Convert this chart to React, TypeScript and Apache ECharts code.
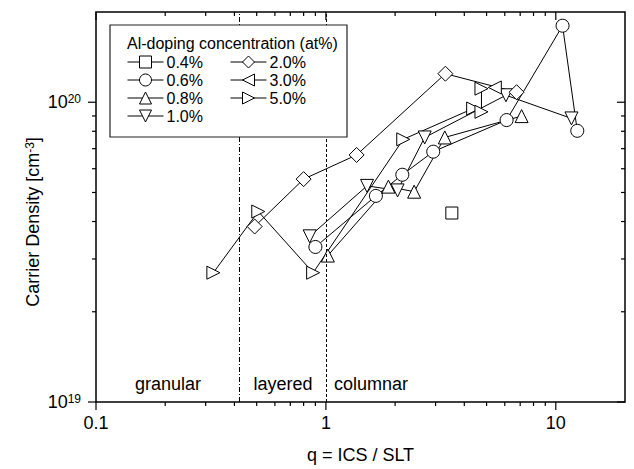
import React, { useEffect, useRef } from 'react';
import * as echarts from 'echarts';

// Axis ranges
const xMin = 0.1;
const xMax = 20;
const yMin = 1e19;
const yMax = 2e20;

// Tick positions (values)
const xMajorTicks = [0.1, 1, 10];
const xMinorTicks = [0.2, 0.3, 0.4, 0.5, 0.6, 0.7, 0.8, 0.9, 2, 3, 4, 5, 6, 7, 8, 9];
const yMajorTicks = [1e19, 1e20];
const yMinorTicks = [2e19, 3e19, 4e19, 5e19, 6e19, 7e19, 8e19, 9e19];

// Region boundaries (q values) and region labels
const boundaries = [0.42, 1.0];
const regionLabels = ['granular', 'layered', 'columnar'];

// Series names (Al-doping concentration)
const seriesNames = ['0.4%', '0.6%', '0.8%', '1.0%', '2.0%', '3.0%', '5.0%'];

// Data: q = ICS / SLT and carrier density [cm^-3]
const q04 = [3.53];
const n04 = [4.27e19];

const q06 = [0.9, 1.65, 2.15, 2.93, 6.11, 10.7, 12.4];
const n06 = [3.29e19, 4.87e19, 5.73e19, 6.84e19, 8.72e19, 1.8e20, 8.03e19];

const q08 = [1.02, 1.87, 2.42, 3.29, 7.1];
const n08 = [3.08e19, 5.23e19, 5.03e19, 7.63e19, 8.99e19];

const q10 = [0.85, 1.51, 2.05, 2.69, 6.07, 11.7];
const n10 = [3.57e19, 5.26e19, 5.08e19, 7.63e19, 1.055e20, 8.83e19];

const q20 = [0.49, 0.8, 1.36, 3.31, 6.75];
const n20 = [3.85e19, 5.54e19, 6.67e19, 1.245e20, 1.08e20];

const q30 = [5.43];
const n30 = [1.12e20];

const q50 = [0.324, 0.508, 0.88, 2.17, 4.37, 4.75, 4.75];
const n50 = [2.7e19, 4.32e19, 2.7e19, 7.52e19, 9.53e19, 9.29e19, 1.11e20];

const FONT = 'Liberation Sans, Arial, sans-serif';

const pairs = (q: number[], n: number[]) => q.map((v, i) => [v, n[i]]);

const triDown = 'path://M0,0L10,0L5,9Z';
const triLeft = 'path://M9,0L0,5L9,10Z';
const triRight = 'path://M0,0L9,5L0,10Z';

function makeSeries(name: string, q: number[], n: number[], symbol: string, size: number, extra: any = {}) {
  return {
    type: 'line',
    name,
    data: pairs(q, n),
    symbol,
    symbolSize: size,
    showAllSymbol: true,
    itemStyle: { color: '#fff', borderColor: '#000', borderWidth: 1 },
    lineStyle: { color: '#000', width: 1 },
    emphasis: { disabled: true },
    z: 3,
    ...extra,
  };
}

const legendBase = {
  orient: 'vertical',
  top: 54,
  itemWidth: 36,
  itemHeight: 15,
  itemGap: 2,
  padding: 0,
  selectedMode: false,
  z: 110,
  itemStyle: { color: '#fff', borderColor: '#000', borderWidth: 1 },
  lineStyle: { color: '#000', width: 1 },
  textStyle: { color: '#000', fontSize: 16, fontFamily: FONT, padding: [0, 0, 0, -2] },
};

export default function App() {
  const ref = useRef<HTMLDivElement>(null);

  useEffect(() => {
    if (!ref.current) return;
    const chart = echarts.init(ref.current, undefined, { renderer: 'svg' });

    const tickStyle = { stroke: '#000', lineWidth: 1.2 };

    const xTickData = [
      ...xMajorTicks.map((v) => [v, yMin, 1]),
      ...xMinorTicks.map((v) => [v, yMin, 0]),
    ];
    const yTickData = [
      ...yMajorTicks.map((v) => [xMin, v, 1]),
      ...yMinorTicks.map((v) => [xMin, v, 0]),
    ];

    const option: any = {
      animation: false,
      backgroundColor: '#fff',
      grid: {
        left: 96,
        right: 9,
        top: 12,
        bottom: 67,
        show: true,
        borderColor: '#000',
        borderWidth: 1.5,
        backgroundColor: 'transparent',
      },
      xAxis: {
        type: 'log',
        logBase: 10,
        min: xMin,
        max: xMax,
        axisLine: { show: false },
        axisTick: { show: false },
        splitLine: { show: false },
        minorTick: { show: false },
        axisLabel: {
          color: '#000',
          fontSize: 18,
          fontFamily: FONT,
          margin: 12,
          showMaxLabel: false,
          formatter: (v: number) => {
            if (v > 15) return '';
            return v < 1 ? v.toFixed(1) : String(Math.round(v));
          },
        },
        name: 'q = ICS / SLT',
        nameLocation: 'middle',
        nameGap: 44,
        nameTextStyle: { color: '#000', fontSize: 18, fontFamily: FONT },
      },
      yAxis: {
        type: 'log',
        logBase: 10,
        min: yMin,
        max: yMax,
        axisLine: { show: false },
        axisTick: { show: false },
        splitLine: { show: false },
        minorTick: { show: false },
        axisLabel: {
          margin: 15,
          showMaxLabel: false,
          formatter: (v: number) => {
            if (v > 1.5e20) return '';
            return `{b|10}{s|${Math.round(Math.log10(v))}}`;
          },
          rich: {
            b: { fontSize: 18, fontFamily: FONT, color: '#000' },
            s: { fontSize: 12, fontFamily: FONT, color: '#000', verticalAlign: 'top', padding: [0, 0, 6, 0] },
          },
        },
      },
      legend: [
        { ...legendBase, data: seriesNames.slice(0, 4), left: 127 },
        { ...legendBase, data: seriesNames.slice(4), left: 230 },
      ],
      graphic: [
        {
          type: 'rect',
          z: 100,
          shape: { x: 110, y: 25, width: 237, height: 112 },
          style: { fill: '#fff', stroke: '#222', lineWidth: 1.2 },
        },
        {
          type: 'text',
          z: 101,
          x: 127,
          y: 43,
          style: {
            text: 'Al-doping concentration (at%)',
            fontSize: 16,
            fontFamily: FONT,
            fill: '#000',
            align: 'left',
            verticalAlign: 'middle',
          },
        },
        {
          type: 'text',
          z: 50,
          x: 168,
          y: 384,
          style: { text: regionLabels[0], fontSize: 18, fontFamily: FONT, fill: '#000', align: 'center', verticalAlign: 'middle' },
        },
        {
          type: 'text',
          z: 50,
          x: 283,
          y: 384,
          style: { text: regionLabels[1], fontSize: 18, fontFamily: FONT, fill: '#000', align: 'center', verticalAlign: 'middle' },
        },
        {
          type: 'text',
          z: 50,
          x: 334,
          y: 384,
          style: { text: regionLabels[2], fontSize: 18, fontFamily: FONT, fill: '#000', align: 'left', verticalAlign: 'middle' },
        },
        {
          type: 'text',
          z: 50,
          x: 33,
          y: 222,
          rotation: Math.PI / 2,
          style: {
            text: 'Carrier Density [cm{s|-3}]',
            fontSize: 18,
            fontFamily: FONT,
            fill: '#000',
            align: 'center',
            verticalAlign: 'middle',
            rich: {
              s: { fontSize: 12, fontFamily: FONT, fill: '#000', verticalAlign: 'top', padding: [0, 0, 6, 0] },
            },
          },
        },
      ],
      series: [
        makeSeries(seriesNames[0], q04, n04, 'rect', 12, {
          markLine: {
            silent: true,
            symbol: ['none', 'none'],
            label: { show: false },
            emphasis: { disabled: true },
            data: [
              { xAxis: boundaries[0], lineStyle: { color: '#000', width: 1, type: [5, 2, 1, 2] } },
              { xAxis: boundaries[1], lineStyle: { color: '#000', width: 1, type: [3, 2] } },
            ],
          },
        }),
        makeSeries(seriesNames[1], q06, n06, 'circle', 13),
        makeSeries(seriesNames[2], q08, n08, 'triangle', 13),
        makeSeries(seriesNames[3], q10, n10, triDown, 13),
        makeSeries(seriesNames[4], q20, n20, 'diamond', 15),
        makeSeries(seriesNames[5], q30, n30, triLeft, 13),
        makeSeries(seriesNames[6], q50, n50, triRight, 13),
        {
          type: 'custom',
          name: 'xTicks',
          silent: true,
          clip: false,
          z: 5,
          data: xTickData,
          encode: { x: 0, y: 1 },
          renderItem: (params: any, api: any) => {
            const v = api.value(0);
            const len = api.value(2) === 1 ? 8 : 4;
            const b = api.coord([v, yMin]);
            const t = api.coord([v, yMax]);
            return {
              type: 'group',
              children: [
                { type: 'line', shape: { x1: b[0], y1: b[1], x2: b[0], y2: b[1] + len }, style: tickStyle },
                { type: 'line', shape: { x1: t[0], y1: t[1], x2: t[0], y2: t[1] + len }, style: tickStyle },
              ],
            };
          },
        },
        {
          type: 'custom',
          name: 'yTicks',
          silent: true,
          clip: false,
          z: 5,
          data: yTickData,
          encode: { x: 0, y: 1 },
          renderItem: (params: any, api: any) => {
            const v = api.value(1);
            const len = api.value(2) === 1 ? 8 : 4;
            const l = api.coord([xMin, v]);
            const r = api.coord([xMax, v]);
            return {
              type: 'group',
              children: [
                { type: 'line', shape: { x1: l[0] - len, y1: l[1], x2: l[0], y2: l[1] }, style: tickStyle },
                { type: 'line', shape: { x1: r[0] - len, y1: r[1], x2: r[0], y2: r[1] }, style: tickStyle },
              ],
            };
          },
        },
      ],
    };

    chart.setOption(option);
    return () => chart.dispose();
  }, []);

  return (
    <div
      ref={ref}
      style={{ position: 'fixed', left: 0, top: 0, width: 634, height: 469, background: '#fff' }}
    />
  );
}
